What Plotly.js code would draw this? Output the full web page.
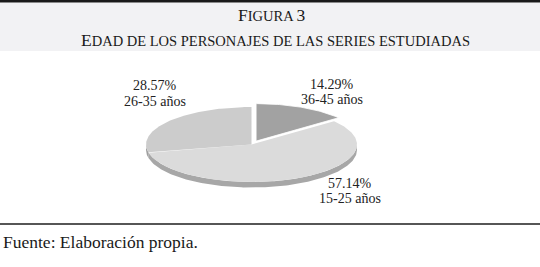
<!DOCTYPE html>
<html>
<head>
<meta charset="utf-8">
<script src="https://cdn.plot.ly/plotly-3.0.1.min.js"></script>
<style>
  html, body { margin: 0; padding: 0; background: #ffffff; }
  #chart { width: 540px; height: 267px; }
</style>
</head>
<body>
<div id="chart"></div>
<script>
// ---- Data ----
const figureLabel = 'Figura 3';
const chartTitle = 'Edad de los personajes de las series estudiadas';
const sourceNote = 'Fuente: Elaboración propia.';
const categories = ['36-45 años', '15-25 años', '26-35 años'];
const percentages = [14.29, 57.14, 28.57];
const pulls = [0.1, 0, 0];

// ---- Style / layout constants ----
const topColors = ['#a2a2a2', '#dbdbdb', '#cccccc'];
const sideColors = ['#8e8e8e', '#a7a7a7', '#a0a0a0'];
const FONT = 'Liberation Serif';
const W = 540, H = 267;
const CX = 251.5, CY = 144.5, RA = 105.5, RB = 37.5, DEPTH = 5.5;
const CAP_SIZE = 17.5, SMALL_SIZE = 14.5;
// label anchor points (screen px) per category: [x, y line1, y line2]
const labelAnchors = [[332, 84, 99], [350, 183, 198], [155, 85, 101.5]];

// manual small caps: capitals at full size, lower-case letters upper-cased at a smaller size
function smallCaps(str) {
  let out = '';
  let cur = null, buf = '';
  const flush = () => {
    if (!buf) return;
    const sz = cur === 'big' ? CAP_SIZE : SMALL_SIZE;
    out += '<span style="font-size:' + sz + 'px">' + buf + '</span>';
    buf = '';
  };
  for (const ch of str) {
    const isUpper = ch !== ch.toLowerCase() || /[0-9]/.test(ch);
    const kind = (ch === ' ') ? (cur || 'small') : (isUpper ? 'big' : 'small');
    if (kind !== cur) { flush(); cur = kind; }
    buf += ch.toUpperCase();
  }
  flush();
  return out;
}

function pt(thetaDeg, ox, oy, dz) {
  const t = thetaDeg * Math.PI / 180;
  return [CX + ox + RA * Math.cos(t), CY + oy - RB * Math.sin(t) + (dz || 0)];
}

const total = percentages.reduce((s, v) => s + v, 0);
const traces = [];
const sideTraces = [];
const topTraces = [];
let start = 90;
percentages.forEach((v, i) => {
  const sweep = v / total * 360;
  const end = start - sweep; // clockwise
  const mid = (start + end) / 2 * Math.PI / 180;
  const ox = pulls[i] * RA * Math.cos(mid);
  const oy = -pulls[i] * RB * Math.sin(mid);
  const xs = [CX + ox], ys = [CY + oy];
  const steps = Math.max(8, Math.ceil(sweep));
  for (let k = 0; k <= steps; k++) {
    const p = pt(start - sweep * k / steps, ox, oy);
    xs.push(p[0]); ys.push(p[1]);
  }
  xs.push(CX + ox); ys.push(CY + oy);
  topTraces.push({
    type: 'scatter', mode: 'lines', x: xs, y: ys, fill: 'toself',
    fillcolor: topColors[i], line: { width: pulls[i] > 0 ? 0.8 : 0, color: '#ffffff' },
    hoverinfo: 'text', text: categories[i] + ': ' + v.toFixed(2) + '%', showlegend: false
  });
  const lo = Math.max(end, -180), hi = Math.min(start, 0);
  if (hi > lo) {
    const sx = [], sy = [];
    const n = Math.max(6, Math.ceil(hi - lo));
    for (let k = 0; k <= n; k++) {
      const p = pt(hi - (hi - lo) * k / n, ox, oy);
      sx.push(p[0]); sy.push(p[1]);
    }
    for (let k = n; k >= 0; k--) {
      const p = pt(hi - (hi - lo) * k / n, ox, oy, DEPTH);
      sx.push(p[0]); sy.push(p[1]);
    }
    sx.push(sx[0]); sy.push(sy[0]);
    sideTraces.push({
      type: 'scatter', mode: 'lines', x: sx, y: sy, fill: 'toself',
      fillcolor: sideColors[i], line: { width: 0 }, hoverinfo: 'skip', showlegend: false
    });
  }
  start = end;
});
const ordered = topTraces.filter((t, i) => pulls[i] === 0).concat(topTraces.filter((t, i) => pulls[i] > 0));
traces.push(...sideTraces, ...ordered);

const annotations = [
  { x: 271, y: 15, text: smallCaps(figureLabel), font: { family: FONT, size: CAP_SIZE, color: '#1a1a1a' } },
  { x: 275, y: 39.5, text: smallCaps(chartTitle), font: { family: FONT, size: CAP_SIZE, color: '#1a1a1a' } },
  { x: 1, y: 241.5, xanchor: 'left', text: sourceNote, font: { family: FONT, size: 17.5, color: '#1a1a1a' } }
];
categories.forEach((c, i) => {
  const a = labelAnchors[i];
  annotations.push({ x: a[0], y: a[1], text: percentages[i].toFixed(2) + '%', font: { family: FONT, size: 14, color: '#222222' } });
  annotations.push({ x: a[0], y: a[2], text: c, font: { family: FONT, size: 14, color: '#222222' } });
});
annotations.forEach(a => {
  a.xref = 'x'; a.yref = 'y'; a.showarrow = false;
  if (!a.xanchor) a.xanchor = 'center';
  a.yanchor = 'middle';
});

const layout = {
  width: W, height: H, autosize: false,
  margin: { l: 0, r: 0, t: 0, b: 0, pad: 0 },
  paper_bgcolor: '#ffffff', plot_bgcolor: '#ffffff',
  font: { family: FONT },
  xaxis: { range: [0, W], visible: false, fixedrange: true },
  yaxis: { range: [H, 0], visible: false, fixedrange: true },
  showlegend: false,
  shapes: [
    { type: 'rect', xref: 'x', yref: 'y', x0: 0, x1: W, y0: 2.5, y1: 51, fillcolor: '#f2f2f4', line: { width: 0 }, layer: 'below' },
    { type: 'line', xref: 'x', yref: 'y', x0: 0, x1: W, y0: 1.2, y1: 1.2, line: { color: '#1a1a1a', width: 2.4 } },
    { type: 'line', xref: 'x', yref: 'y', x0: 0, x1: W, y0: 224, y1: 224, line: { color: '#1e1e1e', width: 1.3 } }
  ],
  annotations: annotations
};

Plotly.newPlot('chart', traces, layout, { displayModeBar: false, staticPlot: true });
</script>
</body>
</html>
